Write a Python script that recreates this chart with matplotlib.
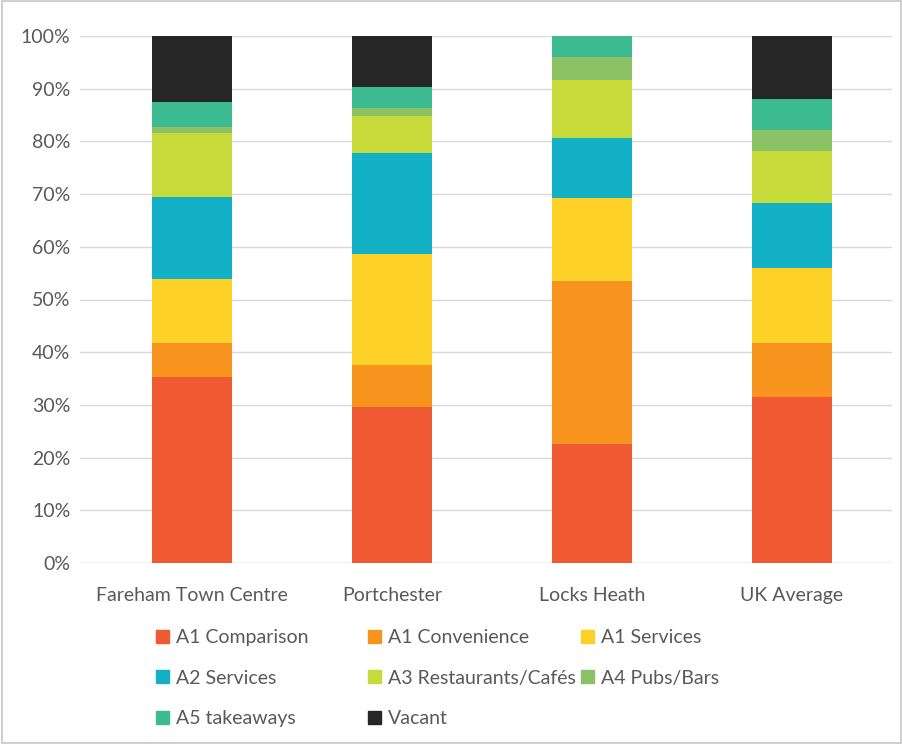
import matplotlib.pyplot as plt
from matplotlib.patches import Patch, Rectangle

plt.rcParams['font.family'] = ['Lato', 'DejaVu Sans']

places = ["Fareham Town Centre", "Portchester", "Locks Heath", "UK Average"]
uses = ["A1 Comparison", "A1 Convenience", "A1 Services", "A2 Services",
        "A3 Restaurants/Cafés", "A4 Pubs/Bars", "A5 takeaways", "Vacant"]

# share of units (%) per place
a1_comparison = [35.3, 29.6, 22.6, 31.5]
a1_convenience = [6.4, 8.0, 30.9, 10.2]
a1_services = [12.2, 21.0, 15.8, 14.3]
a2_services = [15.5, 19.2, 11.3, 12.3]
a3_restaurants = [12.2, 7.0, 11.0, 9.8]
a4_pubs = [1.1, 1.5, 4.5, 4.1]
a5_takeaways = [4.8, 4.1, 3.9, 5.8]
vacant = [12.5, 9.6, 0.0, 12.0]

series = [a1_comparison, a1_convenience, a1_services, a2_services,
          a3_restaurants, a4_pubs, a5_takeaways, vacant]
colors = ["#F05A32", "#F7941E", "#FDD128", "#12B1C6",
          "#C6DA3A", "#8DC165", "#3DBB90", "#262626"]

fig = plt.figure(figsize=(9.03, 7.44), dpi=100)
ax = fig.add_axes([80 / 903, 181 / 744, 812 / 903, 527 / 744])

x = range(len(places))
bottom = [0.0] * len(places)
for vals, col, name in zip(series, colors, uses):
    ax.bar(x, vals, width=0.4, bottom=bottom, color=col, label=name, zorder=3)
    bottom = [b + v for b, v in zip(bottom, vals)]

ax.set_xlim(-0.56, 3.5)
ax.set_ylim(0, 100)
ax.set_yticks(range(0, 101, 10))
ax.set_yticklabels([f"{v}%" for v in range(0, 101, 10)])
ax.set_xticks(list(x))
ax.set_xticklabels(places)
ax.grid(axis='y', color='#D9D9D9', linewidth=1, zorder=0)
for s in ax.spines.values():
    s.set_visible(False)
ax.axhline(0, color='#D9D9D9', linewidth=1, zorder=1)
ax.tick_params(axis='both', length=0, labelsize=14, colors='#595959')
ax.tick_params(axis='x', pad=17)
ax.tick_params(axis='y', pad=7)

# legend laid out in three equal columns, row by row
handles = [Patch(color=c) for c in colors]
cols = [[0, 3, 6], [1, 4, 7], [2, 5]]
col_x = [156, 368, 581]
for idx, cx in zip(cols, col_x):
    fig.legend([handles[i] for i in idx], [uses[i] for i in idx],
               loc='upper left', bbox_to_anchor=(cx / 903, 1 - 629 / 744),
               frameon=False, fontsize=14, labelcolor='#595959',
               handlelength=0.65, handleheight=0.65, handletextpad=0.4,
               labelspacing=1.22, borderpad=0, borderaxespad=0)

fig.patches.append(Rectangle((0.002, 0.002), 0.996, 0.996, transform=fig.transFigure,
                             fill=False, edgecolor='#D0D0D0', linewidth=1.5))

fig.savefig("out.png", dpi=100)
